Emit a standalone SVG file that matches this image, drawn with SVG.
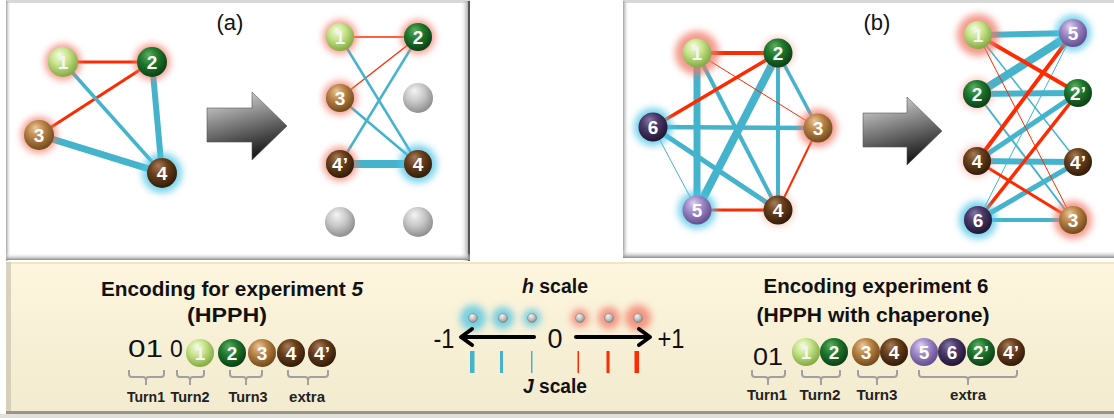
<svg xmlns="http://www.w3.org/2000/svg" width="1114" height="418" viewBox="0 0 1114 418">
<style>
.r{stroke:#ff2a00;fill:none;stroke-linecap:butt}
.c{stroke:#45b3cc;fill:none;stroke-linecap:butt}
.lbl{font-family:"Liberation Sans",Arial,sans-serif;font-weight:bold;font-size:19px;fill:#fff;text-anchor:middle}
.lbl1{fill:#f4f4f4}
.hdr{font-family:"Liberation Sans",Arial,sans-serif;font-weight:bold;font-size:20px;fill:#111;text-anchor:middle}
.sm{font-family:"Liberation Sans",Arial,sans-serif;font-weight:bold;font-size:15px;fill:#222;text-anchor:middle}
.num{font-family:"Liberation Sans",Arial,sans-serif;font-size:23px;fill:#111}
.pl{font-family:"Liberation Sans",Arial,sans-serif;font-size:22px;fill:#111;text-anchor:middle}
.big{font-size:27px}
.brk{stroke:#a0a0a0;stroke-width:2;fill:none}
.gr{fill:#f07868;opacity:0.75}
.gc{fill:#4cc4e4;opacity:0.75}
.gr2{fill:#f07868;opacity:0.4}
</style>
<defs>
<filter id="blur" x="-60%" y="-60%" width="220%" height="220%"><feGaussianBlur stdDeviation="3.5"/></filter>
<radialGradient id="g1" cx="0.42" cy="0.38" r="0.65" fx="0.38" fy="0.25"><stop offset="0" stop-color="#f6fce4"/><stop offset="0.45" stop-color="#c8e48c"/><stop offset="1" stop-color="#7fa63e"/></radialGradient>
<radialGradient id="g2" cx="0.42" cy="0.38" r="0.65" fx="0.38" fy="0.25"><stop offset="0" stop-color="#5fae5f"/><stop offset="0.45" stop-color="#1f7a2e"/><stop offset="1" stop-color="#0b3d14"/></radialGradient>
<radialGradient id="g3" cx="0.42" cy="0.38" r="0.65" fx="0.38" fy="0.25"><stop offset="0" stop-color="#ebc796"/><stop offset="0.45" stop-color="#b98448"/><stop offset="1" stop-color="#6e4718"/></radialGradient>
<radialGradient id="g4" cx="0.42" cy="0.38" r="0.65" fx="0.38" fy="0.25"><stop offset="0" stop-color="#a67b55"/><stop offset="0.45" stop-color="#6a3f1c"/><stop offset="1" stop-color="#2e1a08"/></radialGradient>
<radialGradient id="g5" cx="0.42" cy="0.38" r="0.65" fx="0.38" fy="0.25"><stop offset="0" stop-color="#ddd0f2"/><stop offset="0.45" stop-color="#a08ac8"/><stop offset="1" stop-color="#5e4a8a"/></radialGradient>
<radialGradient id="g6" cx="0.42" cy="0.38" r="0.65" fx="0.38" fy="0.25"><stop offset="0" stop-color="#8676a8"/><stop offset="0.45" stop-color="#4a3a6a"/><stop offset="1" stop-color="#1e1430"/></radialGradient>
<radialGradient id="gg" cx="0.42" cy="0.38" r="0.65" fx="0.38" fy="0.25"><stop offset="0" stop-color="#f4f4f4"/><stop offset="0.5" stop-color="#c8c8c8"/><stop offset="1" stop-color="#8a8a8a"/></radialGradient>
<linearGradient id="arr" x1="0" y1="0" x2="0.3" y2="1"><stop offset="0" stop-color="#e6e6e6"/><stop offset="0.45" stop-color="#8a8a8a"/><stop offset="1" stop-color="#1e1e1e"/></linearGradient>
<linearGradient id="cream" x1="0" y1="0" x2="0" y2="1"><stop offset="0" stop-color="#fdf5dd"/><stop offset="1" stop-color="#f3ebcf"/></linearGradient>
<linearGradient id="shR" x1="0" y1="0" x2="1" y2="0"><stop offset="0" stop-color="#fff" stop-opacity="0"/><stop offset="1" stop-color="#9a9a9a"/></linearGradient>
<linearGradient id="shL" x1="0" y1="0" x2="1" y2="0"><stop offset="0" stop-color="#a0a0a0"/><stop offset="1" stop-color="#fff" stop-opacity="0"/></linearGradient>
<linearGradient id="shB" x1="0" y1="0" x2="0" y2="1"><stop offset="0" stop-color="#fff" stop-opacity="0"/><stop offset="1" stop-color="#8a8a8a"/></linearGradient>
</defs>

<rect width="1114" height="418" fill="#fff"/>

<!-- panel frames -->
<g id="panel-a">
<rect x="6" y="1" width="464" height="260" fill="#fff"/>
<rect x="6" y="0" width="464" height="3" fill="#d8d8d8"/>
<rect x="6" y="1" width="5" height="260" fill="url(#shL)"/>
<rect x="460" y="1" width="9" height="260" fill="url(#shR)"/>
<rect x="468" y="1" width="2" height="260" fill="#555"/>
<rect x="6" y="253" width="464" height="7" fill="url(#shB)"/>
</g>
<g id="panel-b">
<rect x="623" y="1" width="491" height="257" fill="#fff"/>
<rect x="623" y="0" width="491" height="3" fill="#d8d8d8"/>
<rect x="623" y="1" width="6" height="257" fill="url(#shL)"/>
<rect x="623" y="250" width="491" height="8" fill="url(#shB)"/>
</g>
<g id="panel-bottom">
<rect x="6" y="262" width="1108" height="153" fill="url(#cream)"/>
<rect x="6" y="262" width="1108" height="2" fill="#efe6c8"/>
<rect x="6" y="262" width="5" height="153" fill="#c9c3b0" opacity="0.7"/>
<rect x="6" y="411" width="1108" height="3" fill="#9a9585"/>
<rect x="0" y="414" width="1114" height="4" fill="#e2e0da"/>
</g>

<!-- titles -->
<text x="230" y="30" class="pl">(a)</text>
<text x="877" y="30" class="pl">(b)</text>

<!-- big arrows -->
<g id="arrow-a"><path d="M207,108 H252 V92 L287,126 L252,160 V142 H207 Z" fill="url(#arr)" stroke="#555" stroke-width="0.6"/></g>
<g id="arrow-b"><path d="M863,113 H907 V97 L942,131 L907,165 V147 H863 Z" fill="url(#arr)" stroke="#555" stroke-width="0.6"/></g>

<!-- connectors -->
<g id="connectors">
<!-- panel a left -->
<line class="r" stroke-width="3" x1="63" y1="62" x2="152" y2="62"/>
<line class="r" stroke-width="3" x1="39" y1="135" x2="152" y2="62"/>
<line class="c" stroke-width="3.5" x1="63" y1="62" x2="162" y2="173"/>
<line class="c" stroke-width="6" x1="152" y1="62" x2="162" y2="173"/>
<line class="c" stroke-width="7" x1="39" y1="135" x2="162" y2="173"/>
<!-- panel a right -->
<line class="r" stroke-width="1.3" x1="340" y1="37" x2="418" y2="37"/>
<line class="r" stroke-width="1.3" x1="340" y1="98" x2="418" y2="37"/>
<line class="c" stroke-width="2.5" x1="340" y1="37" x2="418" y2="164"/>
<line class="c" stroke-width="2.5" x1="340" y1="98" x2="418" y2="164"/>
<line class="c" stroke-width="2.5" x1="340" y1="164" x2="418" y2="37"/>
<line class="c" stroke-width="8" x1="340" y1="164" x2="418" y2="164"/>
<!-- panel b left -->
<line class="c" stroke-width="7" x1="697" y1="53" x2="697" y2="210"/>
<line class="c" stroke-width="4" x1="697" y1="53" x2="778" y2="210"/>
<line class="c" stroke-width="8" x1="778" y1="53" x2="697" y2="210"/>
<line class="c" stroke-width="4" x1="778" y1="53" x2="778" y2="210"/>
<line class="c" stroke-width="3.5" x1="778" y1="53" x2="818" y2="128"/>
<line class="c" stroke-width="4.5" x1="653" y1="127" x2="818" y2="128"/>
<line class="c" stroke-width="5" x1="653" y1="127" x2="778" y2="210"/>
<line class="c" stroke-width="1" x1="653" y1="127" x2="697" y2="210"/>
<line class="r" stroke-width="4" x1="697" y1="53" x2="778" y2="53"/>
<line class="r" stroke-width="1" x1="697" y1="53" x2="818" y2="128"/>
<line class="r" stroke-width="3.5" x1="653" y1="127" x2="778" y2="53"/>
<line class="r" stroke-width="2" x1="818" y1="128" x2="778" y2="210"/>
<line class="r" stroke-width="3" x1="697" y1="210" x2="778" y2="210"/>
<!-- panel b right -->
<line class="c" stroke-width="6" x1="978" y1="35" x2="1073" y2="33"/>
<line class="c" stroke-width="1.5" x1="978" y1="35" x2="1078" y2="162"/>
<line class="c" stroke-width="8" x1="977" y1="94" x2="1073" y2="33"/>
<line class="c" stroke-width="6" x1="977" y1="94" x2="1078" y2="93"/>
<line class="c" stroke-width="2" x1="977" y1="94" x2="1073" y2="220"/>
<line class="c" stroke-width="5" x1="977" y1="161" x2="1078" y2="93"/>
<line class="c" stroke-width="6" x1="977" y1="161" x2="1078" y2="162"/>
<line class="c" stroke-width="5" x1="978" y1="220" x2="1078" y2="162"/>
<line class="c" stroke-width="4" x1="978" y1="220" x2="1073" y2="220"/>
<line class="c" stroke-width="1" x1="978" y1="220" x2="1073" y2="33"/>
<line class="r" stroke-width="4" x1="978" y1="35" x2="1078" y2="93"/>
<line class="r" stroke-width="1" x1="978" y1="35" x2="1073" y2="220"/>
<line class="r" stroke-width="4" x1="977" y1="161" x2="1073" y2="33"/>
<line class="r" stroke-width="3" x1="977" y1="161" x2="1073" y2="220"/>
<line class="r" stroke-width="3.5" x1="978" y1="220" x2="1078" y2="93"/>
</g>

<!-- panel a left nodes -->
<g id="a1"><circle cx="63" cy="62" r="18" class="gr" filter="url(#blur)"/><circle cx="63" cy="62" r="15" fill="url(#g1)"/><text x="63" y="69" class="lbl lbl1">1</text></g>
<g id="a2"><circle cx="152" cy="62" r="18" class="gr" filter="url(#blur)"/><circle cx="152" cy="62" r="15" fill="url(#g2)"/><text x="152" y="69" class="lbl">2</text></g>
<g id="a3"><circle cx="39" cy="135" r="18" class="gr" filter="url(#blur)"/><circle cx="39" cy="135" r="15" fill="url(#g3)"/><text x="39" y="142" class="lbl">3</text></g>
<g id="a4"><circle cx="162" cy="173" r="20" class="gc" filter="url(#blur)"/><circle cx="162" cy="173" r="15" fill="url(#g4)"/><text x="162" y="180" class="lbl">4</text></g>
<!-- panel a right nodes -->
<g id="ar1"><circle cx="340" cy="37" r="17" class="gr" filter="url(#blur)"/><circle cx="340" cy="37" r="14" fill="url(#g1)"/><text x="340" y="44" class="lbl lbl1">1</text></g>
<g id="ar2"><circle cx="418" cy="37" r="17" class="gr" filter="url(#blur)"/><circle cx="418" cy="37" r="14" fill="url(#g2)"/><text x="418" y="44" class="lbl">2</text></g>
<g id="ar3"><circle cx="340" cy="98" r="17" class="gr" filter="url(#blur)"/><circle cx="340" cy="98" r="14" fill="url(#g3)"/><text x="340" y="105" class="lbl">3</text></g>
<g id="ar-e1"><circle cx="418" cy="98" r="15" fill="url(#gg)"/></g>
<g id="ar4p"><circle cx="340" cy="164" r="17" class="gr" filter="url(#blur)"/><circle cx="340" cy="164" r="14" fill="url(#g4)"/><text x="340" y="171" class="lbl">4’</text></g>
<g id="ar4"><circle cx="418" cy="164" r="19" class="gc" filter="url(#blur)"/><circle cx="418" cy="164" r="14" fill="url(#g4)"/><text x="418" y="171" class="lbl">4</text></g>
<g id="ar-e2"><circle cx="340" cy="222" r="15" fill="url(#gg)"/></g>
<g id="ar-e3"><circle cx="418" cy="222" r="15" fill="url(#gg)"/></g>

<!-- panel b left nodes -->
<g id="b1"><circle cx="697" cy="53" r="22" class="gr" filter="url(#blur)"/><circle cx="697" cy="53" r="14.5" fill="url(#g1)"/><text x="697" y="60" class="lbl lbl1">1</text></g>
<g id="b2"><circle cx="778" cy="53" r="16" class="gr2" filter="url(#blur)"/><circle cx="778" cy="53" r="14.5" fill="url(#g2)"/><text x="778" y="60" class="lbl">2</text></g>
<g id="b6"><circle cx="653" cy="127" r="19" class="gc" filter="url(#blur)"/><circle cx="653" cy="127" r="14.5" fill="url(#g6)"/><text x="653" y="134" class="lbl">6</text></g>
<g id="b3"><circle cx="818" cy="128" r="19" class="gr" filter="url(#blur)"/><circle cx="818" cy="128" r="14.5" fill="url(#g3)"/><text x="818" y="135" class="lbl">3</text></g>
<g id="b5"><circle cx="697" cy="210" r="19" class="gc" filter="url(#blur)"/><circle cx="697" cy="210" r="14.5" fill="url(#g5)"/><text x="697" y="217" class="lbl">5</text></g>
<g id="b4"><circle cx="778" cy="210" r="16" class="gr2" filter="url(#blur)"/><circle cx="778" cy="210" r="14.5" fill="url(#g4)"/><text x="778" y="217" class="lbl">4</text></g>
<!-- panel b right nodes -->
<g id="br1"><circle cx="978" cy="35" r="21" class="gr" filter="url(#blur)"/><circle cx="978" cy="35" r="14" fill="url(#g1)"/><text x="978" y="42" class="lbl lbl1">1</text></g>
<g id="br5"><circle cx="1073" cy="33" r="18" class="gc" filter="url(#blur)"/><circle cx="1073" cy="33" r="14" fill="url(#g5)"/><text x="1073" y="40" class="lbl">5</text></g>
<g id="br2"><circle cx="977" cy="94" r="16" class="gr2" filter="url(#blur)"/><circle cx="977" cy="94" r="14" fill="url(#g2)"/><text x="977" y="101" class="lbl">2</text></g>
<g id="br2p"><circle cx="1078" cy="93" r="14" fill="url(#g2)"/><text x="1078" y="100" class="lbl">2’</text></g>
<g id="br4"><circle cx="977" cy="161" r="16" class="gr2" filter="url(#blur)"/><circle cx="977" cy="161" r="14" fill="url(#g4)"/><text x="977" y="168" class="lbl">4</text></g>
<g id="br4p"><circle cx="1078" cy="162" r="14" fill="url(#g4)"/><text x="1078" y="169" class="lbl">4’</text></g>
<g id="br6"><circle cx="978" cy="220" r="19" class="gc" filter="url(#blur)"/><circle cx="978" cy="220" r="14" fill="url(#g6)"/><text x="978" y="227" class="lbl">6</text></g>
<g id="br3"><circle cx="1073" cy="220" r="19" class="gr" filter="url(#blur)"/><circle cx="1073" cy="220" r="14" fill="url(#g3)"/><text x="1073" y="227" class="lbl">3</text></g>

<!-- bottom left encoding -->
<g id="enc5">
<text x="232" y="296" class="hdr" textLength="262" lengthAdjust="spacingAndGlyphs">Encoding for experiment <tspan font-style="italic">5</tspan></text>
<text x="227" y="322" class="hdr" textLength="80" lengthAdjust="spacingAndGlyphs">(HPPH)</text>
<text x="128" y="357" class="num" textLength="35" lengthAdjust="spacingAndGlyphs">01</text>
<text x="170" y="357" class="num">0</text>
<circle cx="200" cy="353" r="14" fill="url(#g1)"/><text x="200" y="360" class="lbl lbl1">1</text>
<circle cx="232" cy="353" r="14" fill="url(#g2)"/><text x="232" y="360" class="lbl">2</text>
<circle cx="262" cy="353" r="14" fill="url(#g3)"/><text x="262" y="360" class="lbl">3</text>
<circle cx="291" cy="353" r="14" fill="url(#g4)"/><text x="291" y="360" class="lbl">4</text>
<circle cx="322" cy="353" r="14" fill="url(#g4)"/><text x="322" y="360" class="lbl">4’</text>
<path class="brk" d="M129,370 V374 Q129,377 132,377 H143 Q146,377 146,380 V385 M146,380 Q146,377 149,377 H161 Q164,377 164,374 V370"/>
<path class="brk" d="M177,370 V374 Q177,377 180,377 H187 Q190,377 190,380 V385 M190,380 Q190,377 193,377 H201 Q204,377 204,374 V370"/>
<path class="brk" d="M230,370 V374 Q230,377 233,377 H243 Q246,377 246,380 V385 M246,380 Q246,377 249,377 H259 Q262,377 262,374 V370"/>
<path class="brk" d="M288,370 V374 Q288,377 291,377 H305 Q308,377 308,380 V385 M308,380 Q308,377 311,377 H325 Q328,377 328,374 V370"/>
<text x="146" y="402" class="sm" textLength="38" lengthAdjust="spacingAndGlyphs">Turn1</text>
<text x="190" y="402" class="sm" textLength="39" lengthAdjust="spacingAndGlyphs">Turn2</text>
<text x="248" y="402" class="sm" textLength="39" lengthAdjust="spacingAndGlyphs">Turn3</text>
<text x="307" y="402" class="sm" textLength="36" lengthAdjust="spacingAndGlyphs">extra</text>
</g>

<!-- scale -->
<g id="scale">
<text x="555" y="293" class="hdr" textLength="66" lengthAdjust="spacingAndGlyphs"><tspan font-style="italic">h</tspan> scale</text>
<circle cx="473" cy="318" r="13" class="gc" filter="url(#blur)" opacity="0.85"/>
<circle cx="503" cy="318" r="11" class="gc" filter="url(#blur)" opacity="0.65"/>
<circle cx="532" cy="318" r="9" class="gc" filter="url(#blur)" opacity="0.5"/>
<circle cx="580" cy="318" r="9" class="gr" filter="url(#blur)" opacity="0.5"/>
<circle cx="609" cy="318" r="11" class="gr" filter="url(#blur)" opacity="0.65"/>
<circle cx="638" cy="318" r="13" class="gr" filter="url(#blur)" opacity="0.85"/>
<circle cx="473" cy="318" r="4.5" fill="url(#gg)" stroke="#777" stroke-width="0.5"/>
<circle cx="503" cy="318" r="4.5" fill="url(#gg)" stroke="#777" stroke-width="0.5"/>
<circle cx="532" cy="318" r="4.5" fill="url(#gg)" stroke="#777" stroke-width="0.5"/>
<circle cx="580" cy="318" r="4.5" fill="url(#gg)" stroke="#777" stroke-width="0.5"/>
<circle cx="609" cy="318" r="4.5" fill="url(#gg)" stroke="#777" stroke-width="0.5"/>
<circle cx="638" cy="318" r="4.5" fill="url(#gg)" stroke="#777" stroke-width="0.5"/>
<g stroke="#000" stroke-width="4" fill="none" stroke-linecap="round" stroke-linejoin="round">
<line x1="534" y1="337" x2="462" y2="337"/>
<polyline points="472,329 461,337 472,345"/>
<line x1="576" y1="337" x2="649" y2="337"/>
<polyline points="639,329 650,337 639,345"/>
</g>
<text x="444" y="348" class="pl big" textLength="21" lengthAdjust="spacingAndGlyphs">-1</text>
<text x="555" y="348" class="pl big">0</text>
<text x="671" y="348" class="pl big" textLength="27" lengthAdjust="spacingAndGlyphs">+1</text>
<rect x="470" y="351" width="4.5" height="22" fill="#45b3cc"/>
<rect x="500" y="351" width="3" height="22" fill="#45b3cc"/>
<rect x="531" y="351" width="1.5" height="22" fill="#45b3cc"/>
<rect x="577.5" y="351" width="1.5" height="22" fill="#ff2a00"/>
<rect x="606.5" y="351" width="3" height="22" fill="#ff2a00"/>
<rect x="634.5" y="351" width="4.5" height="22" fill="#ff2a00"/>
<text x="555" y="393" class="hdr" textLength="64" lengthAdjust="spacingAndGlyphs"><tspan font-style="italic">J</tspan> scale</text>
</g>

<!-- bottom right encoding -->
<g id="enc6">
<text x="876" y="293" class="hdr" textLength="225" lengthAdjust="spacingAndGlyphs">Encoding experiment 6</text>
<text x="873" y="322" class="hdr" textLength="233" lengthAdjust="spacingAndGlyphs">(HPPH with chaperone)</text>
<text x="753" y="365" class="num" textLength="30" lengthAdjust="spacingAndGlyphs">01</text>
<circle cx="806" cy="352" r="14" fill="url(#g1)"/><text x="806" y="359" class="lbl lbl1">1</text>
<circle cx="834" cy="352" r="14" fill="url(#g2)"/><text x="834" y="359" class="lbl">2</text>
<circle cx="866" cy="352" r="14" fill="url(#g3)"/><text x="866" y="359" class="lbl">3</text>
<circle cx="894" cy="352" r="14" fill="url(#g4)"/><text x="894" y="359" class="lbl">4</text>
<circle cx="924" cy="352" r="14" fill="url(#g5)"/><text x="924" y="359" class="lbl">5</text>
<circle cx="952" cy="352" r="14" fill="url(#g6)"/><text x="952" y="359" class="lbl">6</text>
<circle cx="981" cy="352" r="14" fill="url(#g2)"/><text x="981" y="359" class="lbl">2’</text>
<circle cx="1011" cy="352" r="14" fill="url(#g4)"/><text x="1011" y="359" class="lbl">4’</text>
<path class="brk" d="M752,370 V374 Q752,377 755,377 H765 Q768,377 768,380 V385 M768,380 Q768,377 771,377 H782 Q785,377 785,374 V370"/>
<path class="brk" d="M802,370 V374 Q802,377 805,377 H818 Q821,377 821,380 V385 M821,380 Q821,377 824,377 H837 Q840,377 840,374 V370"/>
<path class="brk" d="M858,370 V374 Q858,377 861,377 H874 Q877,377 877,380 V385 M877,380 Q877,377 880,377 H894 Q897,377 897,374 V370"/>
<path class="brk" d="M919,370 V374 Q919,377 922,377 H965 Q968,377 968,380 V385 M968,380 Q968,377 971,377 H1014 Q1017,377 1017,374 V370"/>
<text x="767" y="400" class="sm" textLength="40" lengthAdjust="spacingAndGlyphs">Turn1</text>
<text x="820" y="400" class="sm" textLength="41" lengthAdjust="spacingAndGlyphs">Turn2</text>
<text x="877" y="400" class="sm" textLength="41" lengthAdjust="spacingAndGlyphs">Turn3</text>
<text x="968" y="400" class="sm" textLength="36" lengthAdjust="spacingAndGlyphs">extra</text>
</g>
</svg>
